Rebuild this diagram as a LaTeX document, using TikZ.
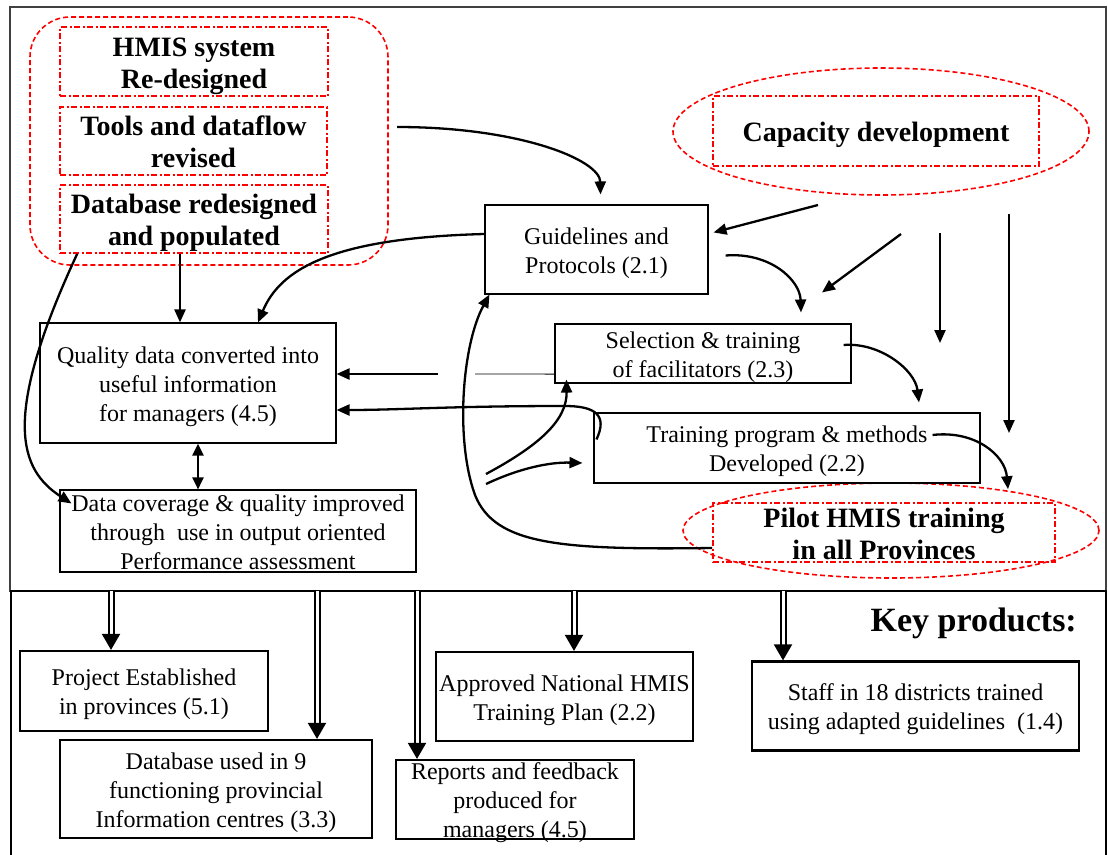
\documentclass[tikz,border=0pt]{standalone}
\usepackage{fontspec}
\setmainfont{Liberation Serif}
\usetikzlibrary{arrows.meta,shapes.geometric,calc}

% multi-line label that does not enlarge its box
\newcommand{\txt}[1]{\raisebox{\dimexpr-.25em-3.5pt\relax}[0pt][0pt]{\begin{tabular}{@{}c@{}}#1\end{tabular}}}

\tikzset{
  plain/.style={draw, line width=1.1pt, inner sep=0pt, font=\fontsize{24}{29}\selectfont},
  prod/.style={draw, line width=2.2pt, inner sep=0pt, font=\fontsize{24}{29}\selectfont},
  grpline/.style={draw=red, line width=1.6pt, dash pattern=on 5pt off 3pt, inner sep=0pt},
  goalbox/.style={draw=red, line width=1.6pt, dash pattern=on 6pt off 2.5pt on 2pt off 2.5pt,
                  inner sep=0pt, font=\fontsize{28}{32}\selectfont\bfseries},
  arr/.style={line width=2.3pt, -{Triangle[length=13pt,width=11pt]}},
  dbl/.style={double, double distance=3pt, line width=2pt, -{Triangle[length=16pt,width=18pt]}},
}

\begin{document}
\begin{tikzpicture}[x=1pt, y=-1pt]
\path[use as bounding box] (0,0) rectangle (1108,854);
\clip (0,0) rectangle (1108,854);

% frames
\draw[line width=1.3pt, black!75] (10,7) rectangle (1106,591);
\draw[line width=2.6pt] (11,860) |- (1106,591) -- (1106,860);

% --- system group (top left)
\node[grpline, rounded corners=40pt, minimum width=358pt, minimum height=248pt] (grp) at (209,141) {};
\node[goalbox, minimum width=268pt, minimum height=69pt] (hmis) at (194,61.5) {\txt{HMIS system\\Re-designed}};
\node[goalbox, minimum width=267pt, minimum height=68pt] (tools) at (193.5,141) {\txt{Tools and dataflow\\revised}};
\node[goalbox, minimum width=268pt, minimum height=68pt] (dbase) at (194,219) {\txt{Database redesigned\\and populated}};

% --- capacity development
\node[grpline, ellipse, minimum width=416pt, minimum height=127pt] (cap) at (881,131.5) {};
\node[goalbox, minimum width=326pt, minimum height=70pt] (capbox) at (876,131) {\txt{Capacity development}};

% --- pilot training
\node[grpline, ellipse, minimum width=416pt, minimum height=95pt] (pil) at (891,530.5) {};
\node[goalbox, minimum width=342pt, minimum height=59pt] (pilbox) at (884,532.5) {\txt{Pilot HMIS training\\in all Provinces}};

% --- process boxes
\node[plain, minimum width=223pt, minimum height=89pt] (guid) at (596.5,249.5) {\txt{Guidelines and\\Protocols (2.1)}};
\node[plain, minimum width=296pt, minimum height=59pt] (sel) at (703,353.5) {\txt{Selection \& training\\of facilitators (2.3)}};
\node[plain, minimum width=386pt, minimum height=70pt] (trn) at (787,448) {\txt{Training program \& methods\\Developed (2.2)}};
\node[plain, minimum width=296pt, minimum height=120pt] (qual) at (188,383) {\txt{Quality data converted into\\useful information\\for managers (4.5)}};
\node[plain, minimum width=356pt, minimum height=82pt] (dcov) at (238,531) {\txt{Data coverage \& quality improved\\through\ \ use in output oriented\\Performance assessment}};

% --- key products
\node[anchor=east, inner sep=0pt, font=\fontsize{34}{38}\selectfont\bfseries] (key) at (1077,623) {Key products:};
\node[prod, minimum width=248pt, minimum height=80pt] (proj) at (144,691) {\txt{Project Established\\in provinces (5.1)}};
\node[prod, minimum width=312pt, minimum height=98pt] (dbu) at (216,789) {\txt{Database used in 9\\functioning provincial\\Information centres (3.3)}};
\node[prod, minimum width=257pt, minimum height=89pt] (appr) at (564.5,696.5) {\txt{Approved National HMIS\\Training Plan (2.2)}};
\node[prod, minimum width=238pt, minimum height=79pt] (rep) at (515,799.5) {\txt{Reports and feedback\\produced for\\managers (4.5)}};
\node[prod, minimum width=327pt, minimum height=89pt] (staff) at (915.5,706) {\txt{Staff in 18 districts trained\\using adapted guidelines\ \ (1.4)}};

% free ends of connectors
\coordinate (t0) at (397,127);
\coordinate (ca1) at (818,205);
\coordinate (ca2) at (901,234);
\coordinate (ca3) at (940,233);
\coordinate (ca3e) at (940,343);
\coordinate (ca4) at (1009,214);
\coordinate (ca4e) at (1009,433);
\coordinate (g1) at (438,374);
\coordinate (g2) at (475,374);
\coordinate (s1) at (486,474);
\coordinate (s2) at (486,484);

% --- connectors, top part
\draw[arr] (t0) .. controls (520,127) and (600,160) .. ($(guid.north)+(4,-10)$);
\draw[arr] ($(guid.west)+(0,-15.5)$) .. controls (330,238) and (280,270) .. ($(qual.north)+(70,0)$);
\draw[arr] ($(dbase.south)+(-14,0)$) -- ($(qual.north)+(-8,0)$);
\draw[arr] ($(dbase.south west)+(18,0)$) .. controls (0,420) and (20,470) .. ($(dcov.north west)+(12,14)$);
\draw[line width=2.5pt, {Triangle[length=12pt,width=11pt]}-{Triangle[length=12pt,width=11pt]}]
  ($(qual.south)+(10,0)$) -- ($(dcov.north)+(-40,0)$);
\draw[line width=0.9pt] ($(sel.south west)+(0,-9.5)$) -- (g2);
\draw[arr] (g1) -- ($(qual.east)+(0,-9)$);
\draw[arr] ($(trn.north west)+(3,27)$) .. controls (608,415) and (595,406) .. (565,406)
  .. controls (450,406) and (400,410) .. ($(qual.east)+(0,27)$);
\draw[arr] (s1) .. controls (540,445) and (567,420) .. ($(sel.south west)+(12,-4)$);
\draw[arr] (s2) .. controls (520,468) and (550,462) .. ($(trn.west)+(-11,15)$);
\draw[arr] ($(pilbox.west)+(0,15.5)$) .. controls (560,550) and (495,545) .. (475,495)
  .. controls (455,440) and (462,345) .. ($(guid.south west)+(5,0)$);
\draw[arr] ($(guid.east)+(17,6)$) .. controls (770,252) and (800,280) .. ($(sel.north)+(98,-11)$);
\draw[arr] ($(sel.east)+(-8,-8.5)$) .. controls (880,342) and (915,370) .. ($(trn.north)+(132,-10)$);
\draw[arr] ($(trn.east)+(-48,-13)$) .. controls (975,430) and (1005,455) .. ($(pil.north)+(117,7)$);
\draw[arr] (ca1) -- ($(guid.north east)+(5,28)$);
\draw[arr] (ca2) -- ($(sel.north)+(119,-31)$);
\draw[arr] (ca3) -- (ca3e);
\draw[arr] (ca4) -- (ca4e);

% --- double arrows into the key products
\coordinate (k1) at (111,591);
\coordinate (k2) at (317,591);
\coordinate (k3) at (417,591);
\coordinate (k4) at (574,591);
\coordinate (k5) at (783,591);
\draw[dbl] (k1) -- (k1 |- proj.north);
\draw[dbl] (k2) -- (k2 |- dbu.north);
\draw[dbl] (k3) -- (k3 |- rep.north);
\draw[dbl] (k4) -- (k4 |- appr.north);
\draw[dbl] (k5) -- (k5 |- staff.north);
\end{tikzpicture}
\end{document}
